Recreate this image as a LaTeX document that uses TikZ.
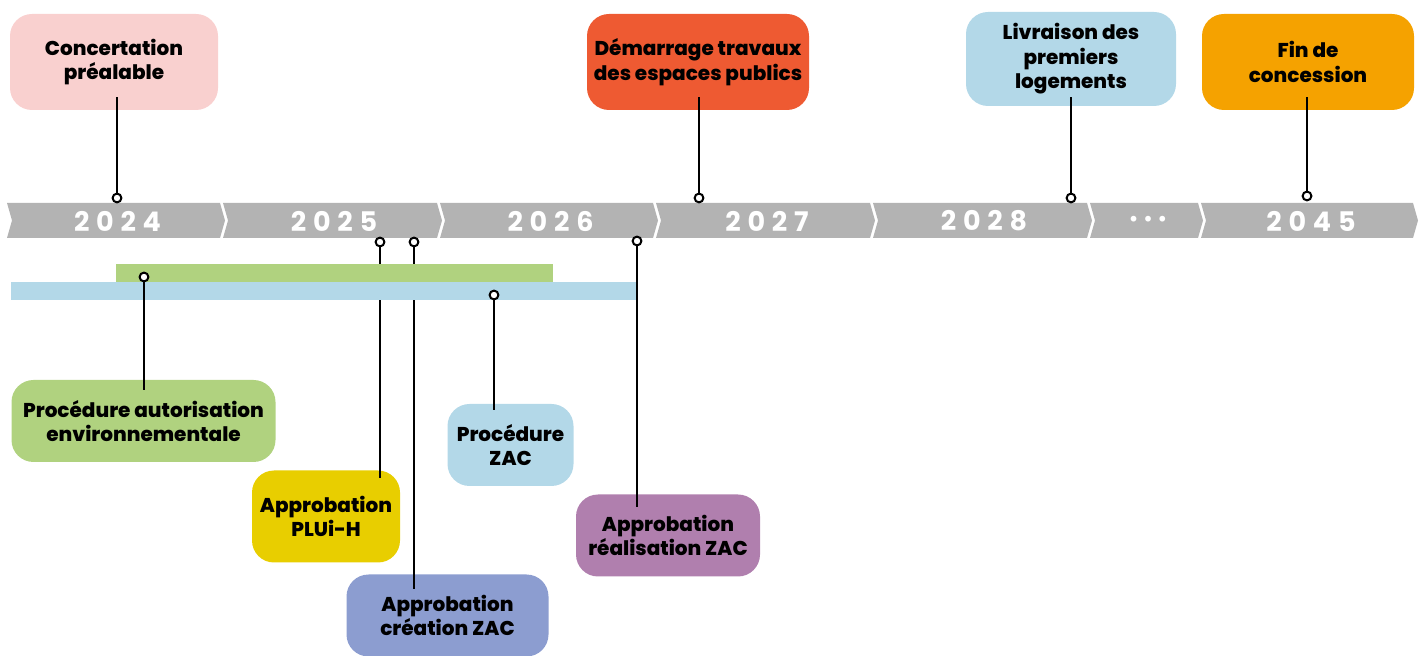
\documentclass[tikz,border=0pt]{standalone}
\usepackage{fontspec}
\setmainfont{Poppins}[BoldFont={Poppins ExtraBold}]
\newfontfamily\yearfont{Poppins}[LetterSpace=25]
\definecolor{bargrey}{HTML}{B3B3B3}
\definecolor{pinkc}{HTML}{F9D0CF}
\definecolor{redc}{HTML}{EE5A32}
\definecolor{skyc}{HTML}{B3D8E8}
\definecolor{orangec}{HTML}{F5A200}
\definecolor{greenc}{HTML}{B0D27F}
\definecolor{yellowc}{HTML}{E8CE00}
\definecolor{periwinklec}{HTML}{8C9DD0}
\definecolor{mauvec}{HTML}{B07FAE}

\begin{document}
\begin{tikzpicture}[x=0.5pt, y=-0.5pt,
    blob/.style={rounded corners=11pt, align=center, inner sep=0pt, font=\fontsize{10}{12.3}\selectfont\bfseries},
    pin/.style={circle, draw, fill=white, line width=1pt, inner sep=0pt, minimum size=4.4pt},
    stem/.style={line width=1pt}]
    \useasboundingbox (0,0) rectangle (1428,656);

    % timeline
    \foreach \l/\r/\yr [count=\i] in {7/220/2024, 223/437/2025, 440/653/2026, 656/870/2027, 873/1087/2028, 1090/1198/{\fontsize{9.5}{10}\selectfont•••}, 1201/1413/2045} {
        \fill[bargrey] (\l,203) -- (\r,203) -- (\r+5,220.5) -- (\r,238) -- (\l,238) -- (\l+5,220.5) -- cycle;
        \node[text=white, font=\yearfont\fontsize{13.5}{14}\selectfont\bfseries] (yr\i) at ({(\l+\r)/2+4},221) {\yr};
    }

    % milestones above
    \node[blob, fill=pinkc, minimum width=104pt, minimum height=48pt] (concert) at (114,62) {Concertation\\préalable};
    \node[blob, fill=redc, minimum width=111pt, minimum height=48pt] (travaux) at (698,62) {Démarrage travaux\\des espaces publics};
    \node[blob, fill=skyc, minimum width=105pt, minimum height=47pt] (livraison) at (1071,59) {Livraison des\\premiers\\logements};
    \node[blob, fill=orangec, minimum width=106pt, minimum height=48pt] (fin) at (1308,62) {Fin de\\concession};

    \node[pin] (pconcert) at (117,198) {};
    \node[pin] (ptravaux) at (699,198) {};
    \node[pin] (plivraison) at (1071,198) {};
    \node[pin] (pfin) at (1307,196) {};
    \draw[stem, shorten >=-6.5pt] (pconcert) -- (pconcert |- concert.south);
    \draw[stem, shorten >=-6.5pt] (ptravaux) -- (ptravaux |- travaux.south);
    \draw[stem, shorten >=-4.5pt] (plivraison) -- (plivraison |- livraison.south);
    \draw[stem, shorten >=-6.5pt] (pfin) -- (pfin |- fin.south);

    % milestones below
    \node[blob, fill=greenc, minimum width=132pt, minimum height=41pt] (autorisation) at (143.5,421) {Procédure autorisation\\environnementale};
    \node[blob, fill=yellowc, minimum width=74pt, minimum height=46pt] (plui) at (326,516.5) {Approbation\\PLUi-H};
    \node[blob, fill=periwinklec, minimum width=101pt, minimum height=41pt] (creation) at (447.5,615.5) {Approbation\\création ZAC};
    \node[blob, fill=skyc, minimum width=63pt, minimum height=41pt] (proczac) at (510.5,445) {Procédure\\ZAC};
    \node[blob, fill=mauvec, minimum width=92pt, minimum height=41pt] (realisation) at (668,535.5) {Approbation\\réalisation ZAC};

    \node[pin] (pplui) at (380,242) {};
    \node[pin] (pcreation) at (414,242) {};
    \node[pin] (prealisation) at (637,241) {};
    \draw[stem, shorten >=-4pt] (pplui) -- (pplui |- plui.north);
    \draw[stem, shorten >=-7.5pt] (pcreation) -- (pcreation |- creation.north);
    \draw[stem, shorten >=-6.5pt] (prealisation) -- (prealisation |- realisation.north);

    % procedures
    \fill[greenc] (116,264) rectangle (553,282);
    \fill[skyc] (11,282) rectangle (636,300);

    \node[pin] (pautorisation) at (144,277) {};
    \node[pin] (pproczac) at (494,295) {};
    \draw[stem, shorten >=-5pt] (pautorisation) -- (pautorisation |- autorisation.north);
    \draw[stem, shorten >=-3pt] (pproczac) -- (pproczac |- proczac.north);
\end{tikzpicture}
\end{document}
